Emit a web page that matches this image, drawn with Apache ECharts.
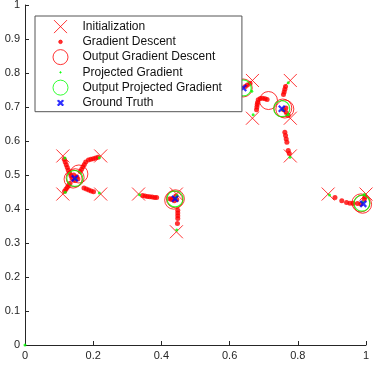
<!DOCTYPE html>
<html>
<head>
<meta charset="utf-8">
<script src="https://cdn.jsdelivr.net/npm/echarts@6/dist/echarts.min.js"></script>
<style>
  html, body { margin: 0; padding: 0; background: #fff; }
  #chart { width: 374px; height: 365px; }
</style>
</head>
<body>
<div id="chart"></div>
<script>
// initial spikes, on the k/9 grid
const initPts = [
  [0.111, 0.556], [0.222, 0.556], [0.111, 0.444], [0.222, 0.444],
  [0.333, 0.444], [0.444, 0.444], [0.444, 0.333],
  [0.667, 0.778], [0.778, 0.778], [0.667, 0.667], [0.778, 0.667], [0.778, 0.556],
  [0.889, 0.444], [1.0, 0.444]
]
// gradient descent iterates
const gdPts = [
  [0.115, 0.546], [0.118, 0.538], [0.121, 0.530], [0.124, 0.522], [0.127, 0.514], [0.131, 0.506], [0.135, 0.498],
  [0.214, 0.552], [0.207, 0.550], [0.200, 0.548], [0.193, 0.546], [0.186, 0.544],
  [0.178, 0.538], [0.174, 0.531], [0.170, 0.524], [0.166, 0.517], [0.162, 0.510],
  [0.116, 0.452], [0.120, 0.458], [0.124, 0.464], [0.128, 0.470], [0.132, 0.476],
  [0.201, 0.451], [0.194, 0.453], [0.187, 0.456], [0.180, 0.459], [0.173, 0.462],
  [0.138, 0.490], [0.145, 0.484], [0.152, 0.495], [0.143, 0.500], [0.155, 0.488],
  [0.345, 0.440], [0.352, 0.438], [0.359, 0.437], [0.366, 0.436], [0.373, 0.435], [0.380, 0.434], [0.386, 0.434],
  [0.425, 0.430], [0.430, 0.428],
  [0.447, 0.357], [0.448, 0.372], [0.448, 0.380], [0.448, 0.388], [0.448, 0.396],
  [0.442, 0.438], [0.432, 0.430], [0.438, 0.424], [0.445, 0.428],
  [0.660, 0.770], [0.652, 0.765], [0.646, 0.760],
  [0.679, 0.692], [0.680, 0.700], [0.681, 0.707], [0.682, 0.713], [0.684, 0.721],
  [0.690, 0.725], [0.697, 0.726], [0.704, 0.724], [0.710, 0.722],
  [0.764, 0.760], [0.762, 0.752], [0.760, 0.744], [0.758, 0.737],
  [0.772, 0.676], [0.766, 0.684], [0.758, 0.692], [0.765, 0.697],
  [0.775, 0.563], [0.772, 0.572], [0.768, 0.596], [0.766, 0.606], [0.764, 0.616], [0.762, 0.626],
  [0.909, 0.434], [0.929, 0.424], [0.943, 0.419], [0.953, 0.417], [0.962, 0.417], [0.975, 0.416], [0.985, 0.415],
  [0.997, 0.435], [0.995, 0.428]
]
const gdOut = [
  [0.141, 0.488], [0.158, 0.503], [0.147, 0.492],
  [0.436, 0.426], [0.441, 0.430],
  [0.640, 0.756], [0.714, 0.719], [0.762, 0.694], [0.756, 0.697],
  [0.990, 0.414], [0.985, 0.418]
]
// projected gradient iterates
const pgPts = [
  [0.117, 0.550], [0.218, 0.551], [0.118, 0.449], [0.218, 0.447],
  [0.336, 0.442], [0.446, 0.440], [0.445, 0.338],
  [0.665, 0.746], [0.772, 0.771], [0.669, 0.677], [0.772, 0.677], [0.777, 0.552],
  [0.893, 0.441], [0.995, 0.443],
  [0.148, 0.488], [0.442, 0.432], [0.756, 0.692], [0.990, 0.420],
  [0, 0]
]
const pgOut = [
  [0.146, 0.490], [0.440, 0.430], [0.640, 0.756], [0.753, 0.695], [0.988, 0.417]
]
const truthPts = [
  [0.146, 0.490], [0.440, 0.430], [0.640, 0.756], [0.753, 0.695], [0.992, 0.415]
]
const xStep = 0.2
const yStep = 0.1

const font = 'Liberation Sans'
const axisColor = '#262626'
const crossPath = 'path://M0 0L10 10M10 0L0 10'
// legend icons: a 42x15 box, mark drawn around x=25 so it sits right of the box edge.
// every icon gets a 1px stroke so all rows come out the same height
const crossIcon = 'path://M0 0M42 15M18.5 1L31.5 14M31.5 1L18.5 14'
const bigDotIcon = 'path://M0 0M42 15M23.25 7.5A1.75 1.75 0 1 1 26.75 7.5A1.75 1.75 0 1 1 23.25 7.5Z'
const ringIcon = 'path://M0 0M42 15M17.5 7.5A7.5 7.5 0 1 1 32.5 7.5A7.5 7.5 0 1 1 17.5 7.5Z'
const smallDotIcon = 'path://M0 0M42 15M24.3 7.5A0.7 0.7 0 1 1 25.7 7.5A0.7 0.7 0 1 1 24.3 7.5Z'
const truthIcon = 'path://M0 0M42 15M23 4.5L25 6.5L27 4.5L28 5.5L26 7.5L28 9.5L27 10.5L25 8.5L23 10.5L22 9.5L24 7.5L22 5.5Z'

const chart = echarts.init(document.getElementById('chart'))
chart.setOption({
  animation: false,
  grid: { left: 25, right: 8, top: 5, bottom: 20, outerBoundsMode: 'none' },
  xAxis: {
    type: 'value', min: 0, max: 1, interval: xStep,
    splitLine: { show: false },
    axisLine: { show: true, onZero: false, lineStyle: { color: axisColor, width: 1 } },
    axisTick: { show: true, inside: true, length: 4, lineStyle: { color: axisColor } },
    axisLabel: { color: axisColor, fontSize: 11, fontFamily: font, margin: 5 }
  },
  yAxis: {
    type: 'value', min: 0, max: 1, interval: yStep,
    splitLine: { show: false },
    axisLine: { show: true, onZero: false, lineStyle: { color: axisColor, width: 1 } },
    axisTick: { show: true, inside: true, length: 4, lineStyle: { color: axisColor } },
    axisLabel: { color: axisColor, fontSize: 11, fontFamily: font, margin: 5 }
  },
  legend: {
    orient: 'vertical', left: 35, top: 16,
    padding: [2.6, 20, 0.8, 0],
    itemWidth: 42, itemHeight: 15, itemGap: -0.74,
    backgroundColor: '#fff', borderColor: '#555', borderWidth: 1, borderRadius: 0,
    selectedMode: false,
    textStyle: { fontFamily: font, fontSize: 12, lineHeight: 15, color: '#111' },
    data: [
      { name: 'Initialization', icon: crossIcon, itemStyle: { color: 'rgba(0,0,0,0)', borderColor: '#ff0000', borderWidth: 1 } },
      { name: 'Gradient Descent', icon: bigDotIcon, itemStyle: { color: '#ff0000', borderColor: '#ff0000', borderWidth: 1 } },
      { name: 'Output Gradient Descent', icon: ringIcon, itemStyle: { color: 'rgba(0,0,0,0)', borderColor: '#ff0000', borderWidth: 1 } },
      { name: 'Projected Gradient', icon: smallDotIcon, itemStyle: { color: '#00ff00', borderColor: '#00ff00', borderWidth: 1 } },
      { name: 'Output Projected Gradient', icon: ringIcon, itemStyle: { color: 'rgba(0,0,0,0)', borderColor: '#00ff00', borderWidth: 1 } },
      { name: 'Ground Truth', icon: truthIcon, itemStyle: { color: '#0000ff', borderColor: '#0000ff', borderWidth: 1 } }
    ]
  },
  series: [
    {
      name: 'Initialization', type: 'scatter', data: initPts,
      symbol: crossPath, symbolSize: 13,
      itemStyle: { color: 'rgba(0,0,0,0)', borderColor: '#ff0000', borderWidth: 1 }
    },
    {
      name: 'Gradient Descent', type: 'scatter', data: gdPts,
      symbol: 'circle', symbolSize: 5,
      itemStyle: { color: '#ff0000' }
    },
    {
      name: 'Output Gradient Descent', type: 'scatter', data: gdOut,
      symbol: 'circle', symbolSize: 18,
      itemStyle: { color: 'rgba(0,0,0,0)', borderColor: '#ff0000', borderWidth: 1 }
    },
    {
      name: 'Projected Gradient', type: 'scatter', data: pgPts,
      symbol: 'circle', symbolSize: 3,
      itemStyle: { color: '#00ff00' }
    },
    {
      name: 'Output Projected Gradient', type: 'scatter', data: pgOut,
      symbol: 'circle', symbolSize: 16,
      itemStyle: { color: 'rgba(0,0,0,0)', borderColor: '#00ff00', borderWidth: 1.2 }
    },
    {
      name: 'Ground Truth', type: 'scatter', data: truthPts,
      symbol: crossPath, symbolSize: 6,
      itemStyle: { color: 'rgba(0,0,0,0)', borderColor: '#0000ff', borderWidth: 2.2 }
    }
  ]
})
</script>
</body>
</html>
